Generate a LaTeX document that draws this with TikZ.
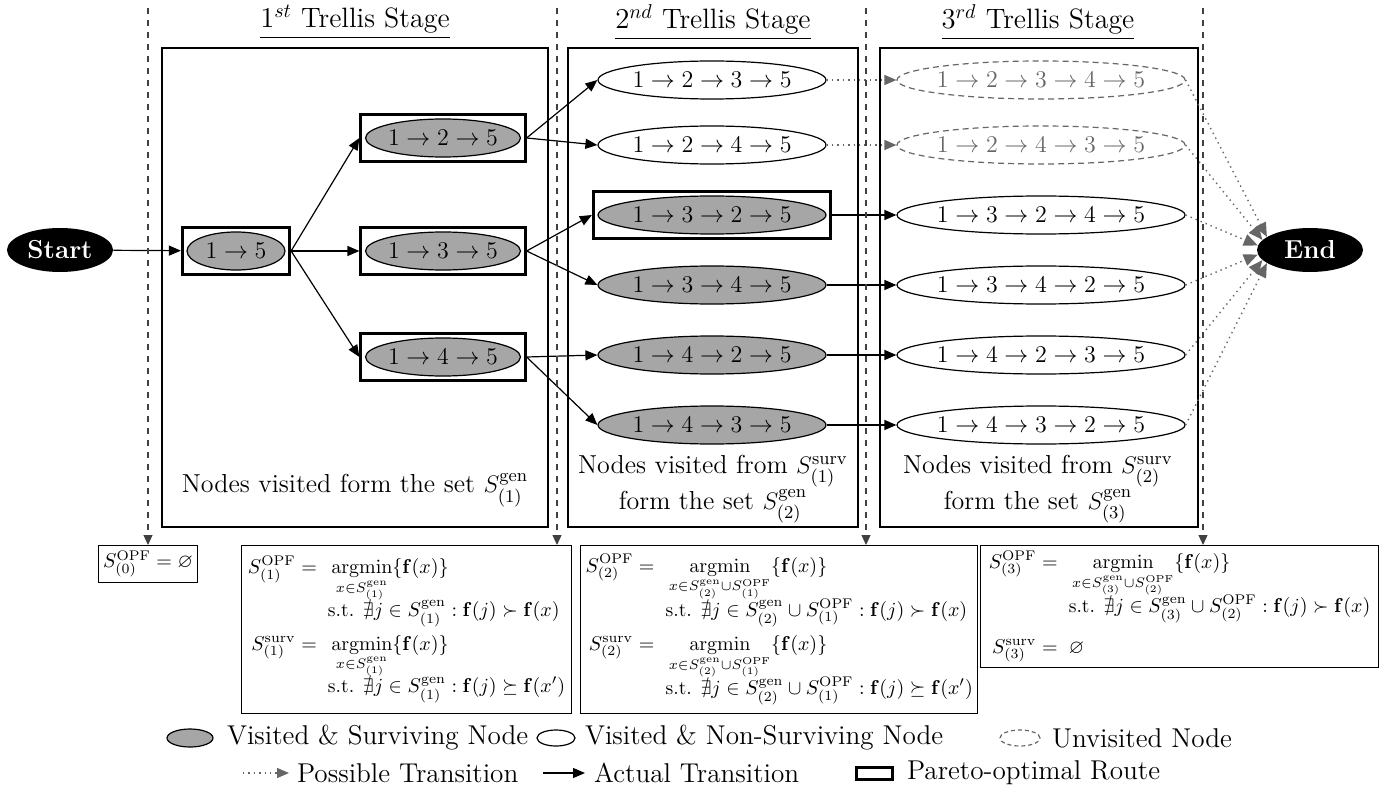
\documentclass[tikz,border=0pt]{standalone}
\usepackage{amsmath,amssymb,bm}
\usepackage{tikz}
\usetikzlibrary{arrows.meta,calc,positioning,shapes.geometric,fit}

\newcommand{\rt}[1]{\makebox[0pt]{$#1$}}

\tikzset{
  route/.style={ellipse,draw,line width=0.6pt,inner sep=0pt,minimum height=19pt,
                font=\fontsize{13.2}{16}\selectfont},
  surv/.style={route,fill=black!35},
  nonsurv/.style={route,fill=white},
  unvis/.style={route,draw=black!60,text=black!60,dash pattern=on 3pt off 2pt},
  pareto/.style={draw,line width=1.5pt,inner sep=2pt},
  term/.style={ellipse,fill=black,text=white,inner sep=0pt,minimum width=53pt,minimum height=22pt,
               font=\bfseries\fontsize{13}{15}\selectfont},
  actual/.style={line width=0.6pt,-{Triangle[length=6pt,width=5pt]}},
  possible/.style={black!60,line width=0.7pt,dotted,-{Triangle[length=6pt,width=5pt,fill=black!60]}},
  stageline/.style={black!75,line width=0.6pt,dashed,-{Triangle[length=5pt,width=4.5pt]}},
  formula/.style={draw,line width=0.6pt,inner sep=2.5pt,anchor=north west,
                  font=\fontsize{9.8}{11.8}\selectfont,execute at begin node={\setlength{\jot}{0pt}}},
  legend/.style={anchor=west,font=\fontsize{13.6}{16}\selectfont},
}

\begin{document}
\begin{tikzpicture}[x=0.5pt,y=-0.5pt,font=\fontsize{14}{17}\selectfont]
  \useasboundingbox (0,0) rectangle (1380,791);

  % trellis stage frames
  \draw[line width=0.6pt] (162,48) rectangle (548,527);
  \draw[line width=0.6pt] (568,48) rectangle (858,527);
  \draw[line width=0.6pt] (880,48) rectangle (1198,527);
  \node (t1) at (355,22) {\underline{$1^{st}$ Trellis Stage}};
  \node (t2) at (713,22) {\underline{$2^{nd}$ Trellis Stage}};
  \node (t3) at (1038,22) {\underline{$3^{rd}$ Trellis Stage}};

  % start / end
  \node[term] (start) at (60,250) {Start};
  \node[term] (end) at (1310,250) {End};

  % 1st stage
  \node[surv,minimum width=49pt] (n15) at (236,251) {\rt{1\rightarrow 5}};
  \node[surv,minimum width=77.5pt] (n125) at (443,138) {\rt{1\rightarrow 2\rightarrow 5}};
  \node[surv,minimum width=77.5pt] (n135) at (443,251) {\rt{1\rightarrow 3\rightarrow 5}};
  \node[surv,minimum width=77.5pt] (n145) at (443,357) {\rt{1\rightarrow 4\rightarrow 5}};
  \node[pareto,fit=(n15)] (p15) {};
  \node[pareto,fit=(n125)] (p125) {};
  \node[pareto,fit=(n135)] (p135) {};
  \node[pareto,fit=(n145)] (p145) {};

  % 2nd stage
  \node[nonsurv,minimum width=114pt] (n1235) at (712,80) {\rt{1\rightarrow 2\rightarrow 3\rightarrow 5}};
  \node[nonsurv,minimum width=114pt] (n1245) at (712,145) {\rt{1\rightarrow 2\rightarrow 4\rightarrow 5}};
  \node[surv,minimum width=114pt] (n1325) at (712,215) {\rt{1\rightarrow 3\rightarrow 2\rightarrow 5}};
  \node[surv,minimum width=114pt] (n1345) at (712,285) {\rt{1\rightarrow 3\rightarrow 4\rightarrow 5}};
  \node[surv,minimum width=114pt] (n1425) at (712,355) {\rt{1\rightarrow 4\rightarrow 2\rightarrow 5}};
  \node[surv,minimum width=114pt] (n1435) at (712,425) {\rt{1\rightarrow 4\rightarrow 3\rightarrow 5}};
  \node[pareto,fit=(n1325)] (p1325) {};

  % 3rd stage
  \node[unvis,minimum width=144pt] (n12345) at (1041,80) {\rt{1\rightarrow 2\rightarrow 3\rightarrow 4\rightarrow 5}};
  \node[unvis,minimum width=144pt] (n12435) at (1041,145) {\rt{1\rightarrow 2\rightarrow 4\rightarrow 3\rightarrow 5}};
  \node[nonsurv,minimum width=144pt] (n13245) at (1041,215) {\rt{1\rightarrow 3\rightarrow 2\rightarrow 4\rightarrow 5}};
  \node[nonsurv,minimum width=144pt] (n13425) at (1041,285) {\rt{1\rightarrow 3\rightarrow 4\rightarrow 2\rightarrow 5}};
  \node[nonsurv,minimum width=144pt] (n14235) at (1041,355) {\rt{1\rightarrow 4\rightarrow 2\rightarrow 3\rightarrow 5}};
  \node[nonsurv,minimum width=144pt] (n14325) at (1041,425) {\rt{1\rightarrow 4\rightarrow 3\rightarrow 2\rightarrow 5}};

  % transitions
  \draw[actual] (start) -- (p15);
  \foreach \t in {p125,p135,p145}
    \draw[actual] (p15.east) -- (\t.west);
  \draw[actual] (p125.east) -- (n1235.west);
  \draw[actual] (p125.east) -- (n1245.west);
  \draw[actual] (p135.east) -- (p1325.west);
  \draw[actual] (p135.east) -- (n1345.west);
  \draw[actual] (p145.east) -- (n1425.west);
  \draw[actual] (p145.east) -- (n1435.west);
  \draw[possible] (n1235) -- (n12345);
  \draw[possible] (n1245) -- (n12435);
  \draw[actual] (p1325) -- (n13245);
  \draw[actual] (n1345) -- (n13425);
  \draw[actual] (n1425) -- (n14235);
  \draw[actual] (n1435) -- (n14325);
  \foreach \n/\a in {n12345/163,n12435/168,n13245/175,n13425/185,n14235/192,n14325/197}
    \draw[possible,-{Triangle[length=7pt,width=6pt,fill=black!60]}] (\n.east) -- (end.\a);

  % stage descriptions
  \node[font=\fontsize{13}{18}\selectfont] (d1) at (355,490) {Nodes visited form the set $S^{\mathrm{gen}}_{(1)}$};
  \node[font=\fontsize{13}{18}\selectfont,align=center] (d2) at (713,489) {Nodes visited from $S^{\mathrm{surv}}_{(1)}$\\form the set $S^{\mathrm{gen}}_{(2)}$};
  \node[font=\fontsize{13}{18}\selectfont,align=center] (d3) at (1038,489) {Nodes visited from $S^{\mathrm{surv}}_{(2)}$\\form the set $S^{\mathrm{gen}}_{(3)}$};

  % OPF / survivor sets
  \node[formula,anchor=north] (opf0) at (148,545) {$S^{\mathrm{OPF}}_{(0)}=\varnothing$};
  \node[formula,minimum width=165pt,minimum height=84pt] (opf1) at (241,545) {$\begin{aligned}
    S^{\mathrm{OPF}}_{(1)} ={}\;& \operatorname*{argmin}_{x\in S^{\mathrm{gen}}_{(1)}}\{\mathbf{f}(x)\}\\[-2pt]
    & \text{s.t. } \nexists j\in S^{\mathrm{gen}}_{(1)} : \mathbf{f}(j)\succ\mathbf{f}(x)\\[2.5pt]
    S^{\mathrm{surv}}_{(1)} ={}\;& \operatorname*{argmin}_{x\in S^{\mathrm{gen}}_{(1)}}\{\mathbf{f}(x)\}\\[-2pt]
    & \text{s.t. } \nexists j\in S^{\mathrm{gen}}_{(1)} : \mathbf{f}(j)\succeq\mathbf{f}(x')
  \end{aligned}$};
  \node[formula,minimum width=198pt,minimum height=84pt] (opf2) at (580,545) {$\begin{aligned}
    S^{\mathrm{OPF}}_{(2)} ={}\;& \operatorname*{argmin}_{x\in S^{\mathrm{gen}}_{(2)}\cup S^{\mathrm{OPF}}_{(1)}}\{\mathbf{f}(x)\}\\[-2pt]
    & \text{s.t. } \nexists j\in S^{\mathrm{gen}}_{(2)}\cup S^{\mathrm{OPF}}_{(1)} : \mathbf{f}(j)\succ\mathbf{f}(x)\\[2.5pt]
    S^{\mathrm{surv}}_{(2)} ={}\;& \operatorname*{argmin}_{x\in S^{\mathrm{gen}}_{(2)}\cup S^{\mathrm{OPF}}_{(1)}}\{\mathbf{f}(x)\}\\[-2pt]
    & \text{s.t. } \nexists j\in S^{\mathrm{gen}}_{(2)}\cup S^{\mathrm{OPF}}_{(1)} : \mathbf{f}(j)\succeq\mathbf{f}(x')
  \end{aligned}$};
  \node[formula,minimum width=199pt,minimum height=57.5pt] (opf3) at (980,545) {$\begin{aligned}
    S^{\mathrm{OPF}}_{(3)} ={}\;& \operatorname*{argmin}_{x\in S^{\mathrm{gen}}_{(3)}\cup S^{\mathrm{OPF}}_{(2)}}\{\mathbf{f}(x)\}\\[-2pt]
    & \text{s.t. } \nexists j\in S^{\mathrm{gen}}_{(3)}\cup S^{\mathrm{OPF}}_{(2)} : \mathbf{f}(j)\succ\mathbf{f}(x)\\[6pt]
    S^{\mathrm{surv}}_{(3)} ={}\;& \varnothing
  \end{aligned}$};

  % stage boundaries
  \coordinate (v0) at (148,8);
  \coordinate (v1) at (557,8);
  \coordinate (v2) at (866,8);
  \coordinate (v3) at (1203,8);
  \draw[stageline] (v0) -- (v0 |- opf0.north);
  \draw[stageline] (v1) -- (v1 |- opf1.north);
  \draw[stageline] (v2) -- (v2 |- opf2.north);
  \draw[stageline] (v3) -- (v3 |- opf3.north);

  % legend
  \node[surv,minimum width=23pt,minimum height=9pt] (lgsurv) at (190,738) {};
  \node[legend] (lgsurvt) at (220,738) {Visited \& Surviving Node};
  \node[nonsurv,minimum width=19pt,minimum height=8pt] (lgnon) at (556,738) {};
  \node[legend] (lgnont) at (578,738) {Visited \& Non-Surviving Node};
  \node[unvis,minimum width=20pt,minimum height=8pt,dash pattern=on 2pt off 1.5pt] (lgunv) at (1020,738) {};
  \node[legend] (lgunvt) at (1045,738) {Unvisited Node};
  \coordinate (lgpa) at (243,773);
  \coordinate (lgpb) at (289,773);
  \draw[possible] (lgpa) -- (lgpb);
  \node[legend] (lgpt) at (290,773) {Possible Transition};
  \coordinate (lgaa) at (543,773);
  \coordinate (lgab) at (585,773);
  \draw[actual] (lgaa) -- (lgab);
  \node[legend] (lgat) at (587,773) {Actual Transition};
  \node[draw,line width=1.5pt,minimum width=18pt,minimum height=6pt,inner sep=0pt] (lgpar) at (874,773) {};
  \node[legend] (lgpart) at (900,773) {Pareto-optimal Route};
\end{tikzpicture}
\end{document}
